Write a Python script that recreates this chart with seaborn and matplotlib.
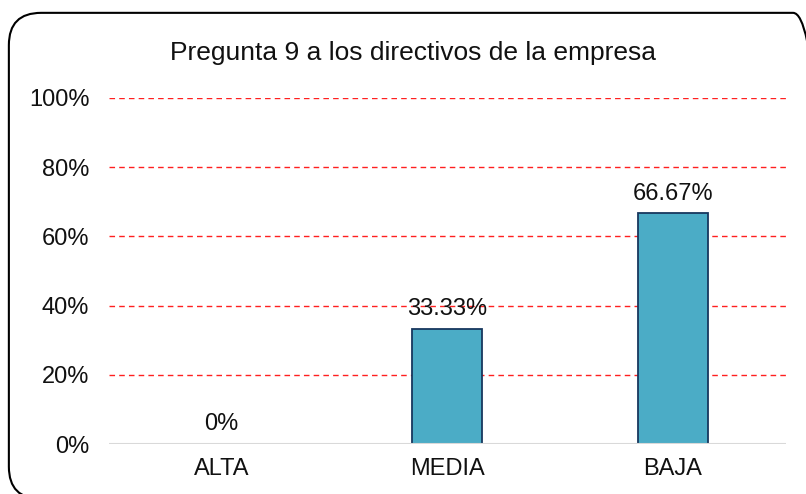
import matplotlib.pyplot as plt
import seaborn as sns
import pandas as pd
from matplotlib.patches import FancyBboxPatch

# Data
categorias = ["ALTA", "MEDIA", "BAJA"]
porcentajes = [0.0, 33.33, 66.67]
etiquetas = ["0%", "33.33%", "66.67%"]
ticks_y = [0, 20, 40, 60, 80, 100]

df = pd.DataFrame({"Nivel": categorias, "Porcentaje": porcentajes})

sns.set_style("white")
plt.rcParams['font.family'] = ['Liberation Sans', 'DejaVu Sans']

fig = plt.figure(figsize=(8.06, 4.94), dpi=100)
ax = fig.add_axes([0.135, 0.101, 0.84, 0.701])

# rounded chart border (right and bottom run off the image)
borde = FancyBboxPatch((0.011, -0.01), 1.013, 0.984, boxstyle="round,pad=0,rounding_size=0.04",
                       transform=fig.transFigure, fill=False, edgecolor="black", linewidth=1.5,
                       mutation_aspect=806/494)
fig.patches.append(borde)

sns.barplot(data=df, x="Nivel", y="Porcentaje", color="#4BACC6", width=0.31,
            edgecolor="#17375E", linewidth=1.3, saturation=1, ax=ax, zorder=3)

ax.set_ylim(0, 100)
ax.set_yticks(ticks_y)
ax.set_yticklabels([f"{t}%" for t in ticks_y])
for t in ticks_y[1:]:
    ax.axhline(t, color="#FF2020", linestyle=(0, (4, 3)), linewidth=1.0, zorder=1)
ax.axhline(0, color="#D9D9D9", linewidth=1.5, zorder=4)

for i, (v, lab) in enumerate(zip(porcentajes, etiquetas)):
    ax.text(i, v + 2.5, lab, ha="center", va="bottom", fontsize=17, color="#111111", zorder=5)

for s in ax.spines.values():
    s.set_visible(False)
ax.tick_params(axis="both", length=0, labelsize=17, colors="#111111")
ax.tick_params(axis="y", pad=14)
ax.tick_params(axis="x", pad=10)
ax.set_xlabel("")
ax.set_ylabel("")
ax.set_xlim(-0.5, 2.5)

fig.text(0.512, 0.893, "Pregunta 9 a los directivos de la empresa", ha="center", va="center",
         fontsize=19, color="#111111")

fig.savefig("out.png", dpi=100)
